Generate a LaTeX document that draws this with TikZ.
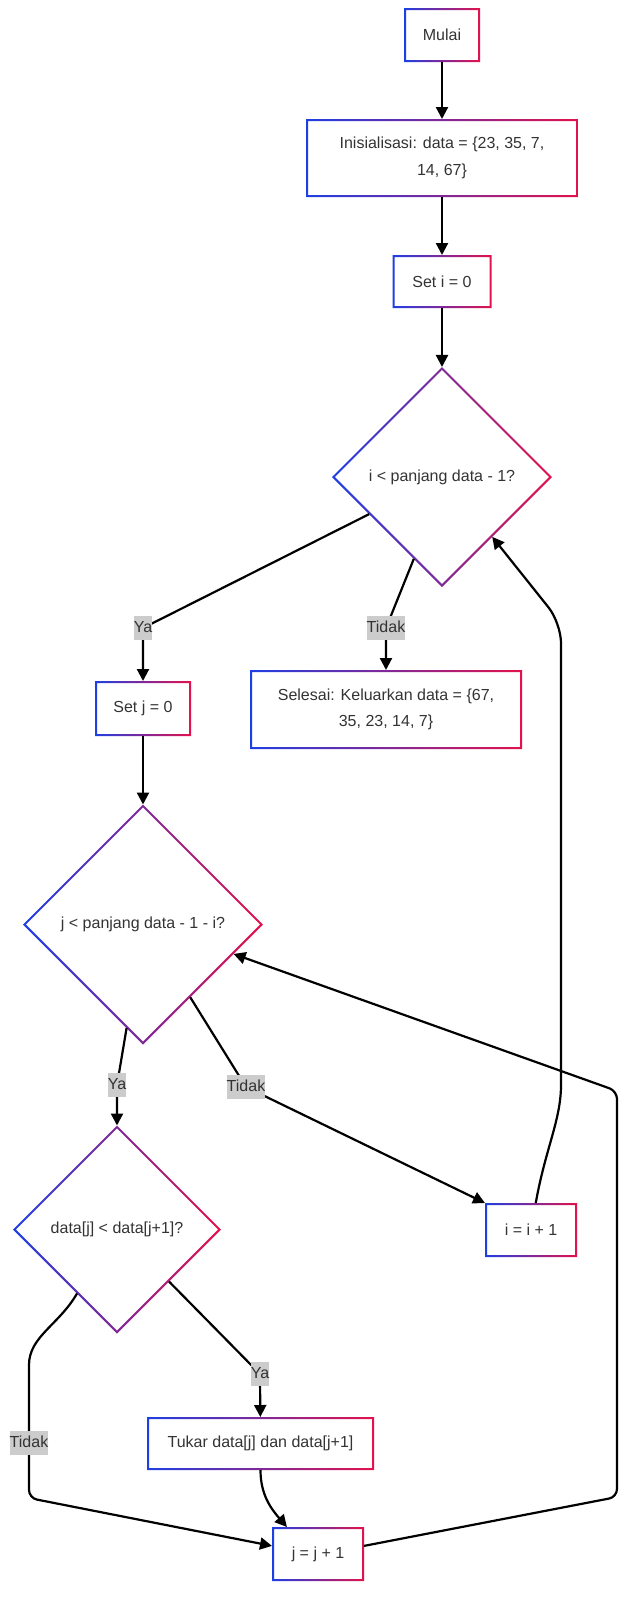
\documentclass[tikz,border=0pt]{standalone}
\usepackage{fontspec}
\setmainfont{Liberation Sans}
\usetikzlibrary{positioning}
\usetikzlibrary{arrows.meta}
\usetikzlibrary{shapes.geometric}

\definecolor{edgeblue}{HTML}{1E3FE3}
\definecolor{edgered}{HTML}{E3124C}
\definecolor{nodetext}{HTML}{333333}
\definecolor{labelgray}{HTML}{CCCCCC}

\begin{document}
\begin{tikzpicture}[
x=1pt, y=-1pt,
font=\fontsize{16}{26.5}\selectfont,
>={Triangle[length=12pt,width=12pt]},
boxnode/.style={rectangle, text=nodetext, align=center, inner sep=0pt, outer sep=0pt},
decnode/.style={diamond, aspect=1, text=nodetext, inner sep=0pt, outer sep=0pt, minimum size=#1},
frame/.style={left color=edgeblue, right color=edgered, even odd rule},
edgelabel/.style={fill=labelgray, text=nodetext, sharp corners, inner xsep=0pt, inner ysep=3pt, text height=13pt, text depth=5pt},
flow/.style={->, line width=2.2pt, black},
]
\useasboundingbox (0,0) rectangle (630,1599);

%Nodes
\node[boxnode, minimum width=76pt, minimum height=54pt]  (start) at (442,35)      {Mulai};
\node[boxnode, minimum width=272pt, minimum height=78pt] (init)  at (442,158)     {Inisialisasi: data = \{23, 35, 7,\\14, 67\}};
\node[boxnode, minimum width=99pt, minimum height=53pt]  (seti)  at (442,281.5)   {Set i = 0};
\node[decnode=220pt]                                     (condi) at (442,477)     {i < panjang data - 1?};
\node[boxnode, minimum width=96pt, minimum height=55pt]  (setj)  at (143,708.5)   {Set j = 0};
\node[boxnode, minimum width=272pt, minimum height=79pt] (done)  at (386,709.5)   {Selesai: Keluarkan data = \{67,\\35, 23, 14, 7\}};
\node[decnode=240pt]                                     (condj) at (143,924.5)   {j < panjang data - 1 - i?};
\node[decnode=208pt]                                     (cmp)   at (117,1229.5)  {data[j] < data[j+1]?};
\node[boxnode, minimum width=92pt, minimum height=54pt]  (inci)  at (531,1230)    {i = i + 1};
\node[boxnode, minimum width=227pt, minimum height=53pt] (swap)  at (260.5,1443.5) {Tukar data[j] dan data[j+1]};
\node[boxnode, minimum width=92pt, minimum height=54pt]  (incj)  at (318,1554)    {j = j + 1};

%Borders
\foreach \n in {start,init,seti,setj,done,inci,swap,incj}
  \shade[frame] (\n.south west) rectangle (\n.north east)
    ([xshift=2pt,yshift=2pt]\n.south west) rectangle ([xshift=-2pt,yshift=-2pt]\n.north east);
\foreach \n in {condi,condj,cmp}
  \shade[frame] (\n.north) -- (\n.east) -- (\n.south) -- (\n.west) -- cycle
    ([yshift=-2.8pt]\n.north) -- ([xshift=-2.8pt]\n.east) -- ([yshift=2.8pt]\n.south) -- ([xshift=2.8pt]\n.west) -- cycle;

%Bends
\coordinate (yai)      at (143,628);
\coordinate (tidaki)   at (386,628);
\coordinate (yaj)      at (117,1085);
\coordinate (tidakj)   at (246,1087);
\coordinate (yacmp)    at (260,1374);
\coordinate (tidakcmp) at (29,1373);
\coordinate (tidakend) at (29,1498);
\coordinate (backj1)   at (617,1497);
\coordinate (backj2)   at (617,1091);
\coordinate (backi1)   at (561,1065);
\coordinate (backi2)   at (561,623);

%Lines
\draw[flow] (start) -- (init);
\draw[flow] (init) -- (seti);
\draw[flow] (seti) -- (condi);
\draw[flow] (condi.207) -- (yai) node[edgelabel] (lyai) {Ya} -- (setj);
\draw[flow] (condi.251) -- (tidaki) node[edgelabel] (ltidaki) {Tidak} -- (done);
\draw[flow] (setj) -- (condj);
\draw[flow] (condj.261) -- (yaj) node[edgelabel] (lyaj) {Ya} -- (cmp);
\draw[flow] (condj.303) -- (tidakj) node[edgelabel] (ltidakj) {Tidak} -- (inci.north west);
\draw[flow] (cmp.south east) -- (yacmp) node[edgelabel] (lyacmp) {Ya} -- (swap);
\draw[flow, rounded corners=8pt] (cmp.238) to[out=240,in=90] (tidakcmp) -- node[edgelabel, pos=0.56] (ltidakcmp) {Tidak} (tidakend) -- (incj.170);
\draw[flow] (swap.south) to[out=-90,in=131] (incj.139);
\draw[flow, rounded corners=8pt] (incj.10) -- (backj1) -- (backj2) -- (condj.342);
\draw[flow, rounded corners=20pt] (inci.80) to[out=80,in=-90] (backi1) -- (backi2) -- (condi.310);
\end{tikzpicture}
\end{document}
